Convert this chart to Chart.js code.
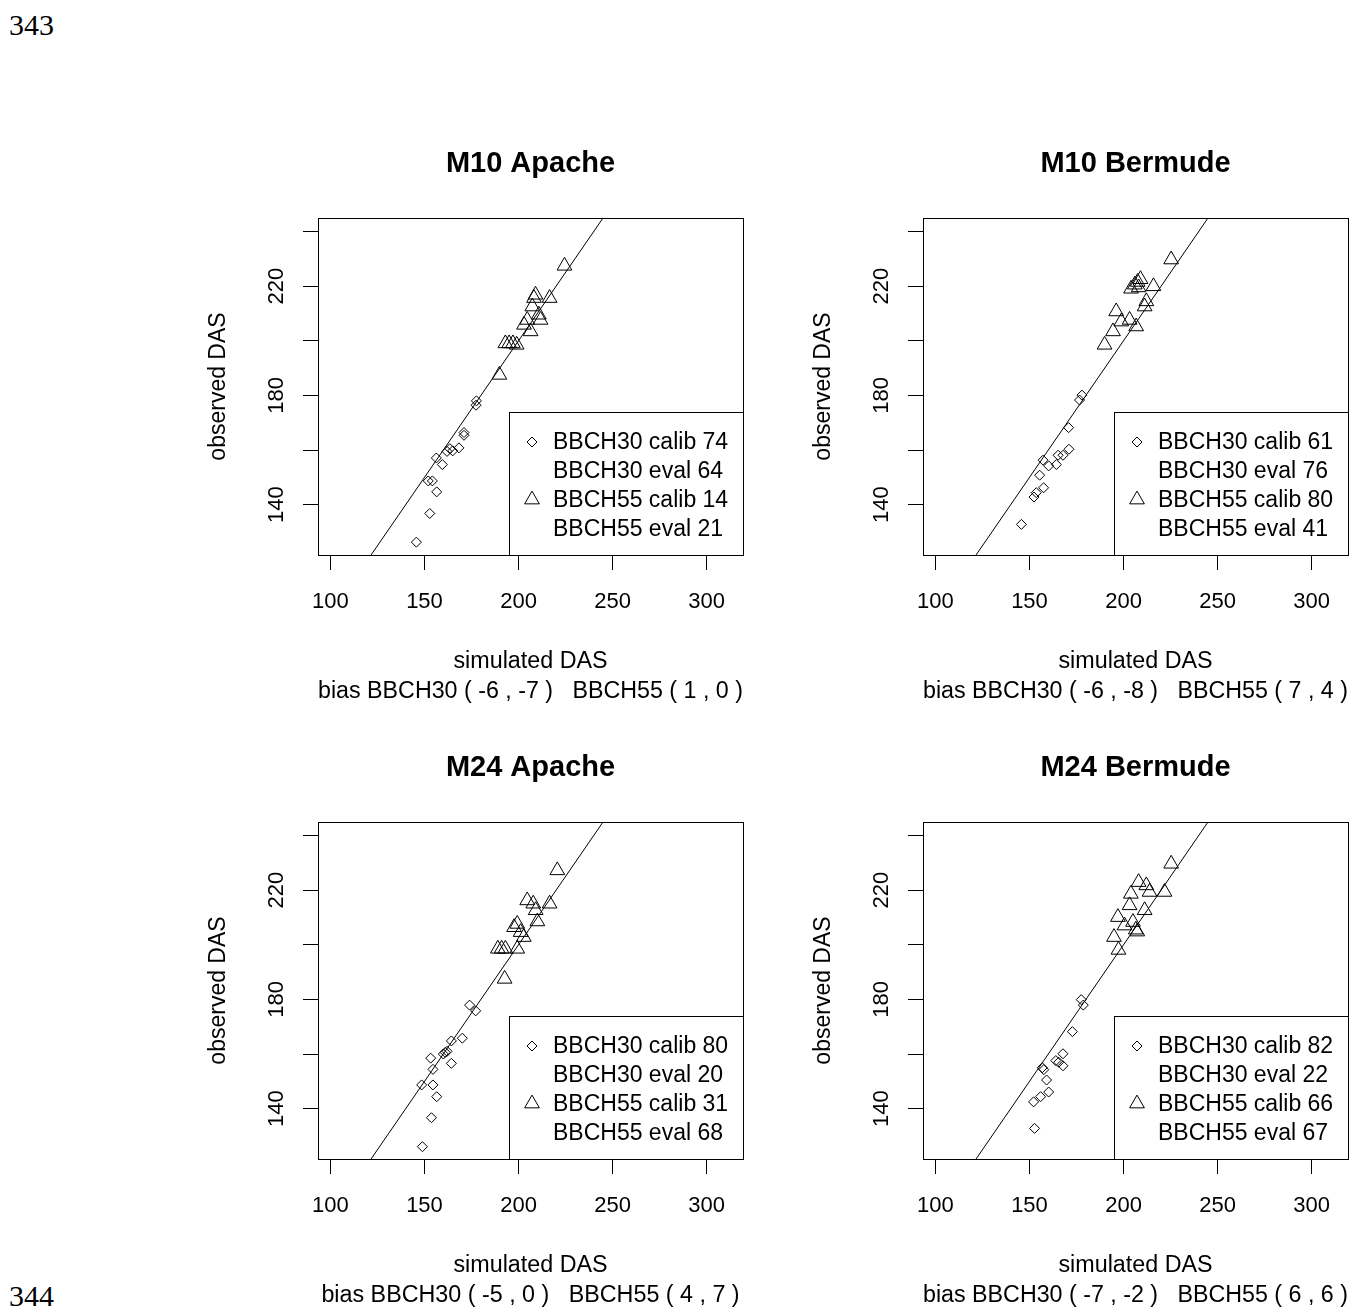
<!DOCTYPE html>
<html>
<head>
<meta charset="utf-8">
<script src="https://cdn.jsdelivr.net/npm/chart.js@4.4.1/dist/chart.umd.min.js"></script>
<style>
  html, body { margin: 0; background: #fff; overflow: hidden; }
  body { width: 1365px; height: 1308px; position: relative; }
  .pg { position: absolute; left: 9px; font: 30px "Liberation Serif", "Times New Roman", serif; line-height: 30px; color: #000; }
  canvas { position: absolute; }
</style>
</head>
<body>
<div class="pg" style="top:10px">343</div>
<div class="pg" style="top:1281px">344</div>
<canvas id="p1" width="760" height="707" style="left:0;top:0"></canvas>
<canvas id="p2" width="760" height="707" style="left:605px;top:0"></canvas>
<canvas id="p3" width="760" height="707" style="left:0;top:604px"></canvas>
<canvas id="p4" width="760" height="707" style="left:605px;top:604px"></canvas>
<script>
// axis set-up shared by all four panels
const xMin = 93.4, xMax = 319.3, yMin = 121.6, yMax = 244.9;
const xTicks = [100, 150, 200, 250, 300];
const yTicks = [140, 160, 180, 200, 220, 240];
const yTickLabels = [140, 180, 220];
const oneToOne = [110, 260];

// M10 Apache
const m10ApacheB30X = [145.7, 152.8, 156.5, 152, 154.2, 159.5, 156.3, 162, 163.5, 165, 168.3, 171, 171, 177.4, 177.6];
const m10ApacheB30Y = [126.3, 136.8, 144.7, 148.7, 148.7, 154.7, 157.1, 159.5, 160.5, 159.7, 160.8, 165.4, 166.4, 176.4, 178];
const m10ApacheB55X = [189.8, 193, 195, 197, 199, 206.4, 202.9, 204.6, 211.7, 210.8, 207.3, 208.2, 209, 216.5, 224.4];
const m10ApacheB55Y = [187.5, 199, 199, 199, 198.5, 203.4, 205.8, 207.6, 207.6, 209.5, 212.5, 215.6, 216.8, 215.6, 227.4];
const m10ApacheScores = [74, 64, 14, 21];
const m10ApacheBias = [-6, -7, 1, 0];

// M10 Bermude
const m10BermudeB30X = [145.7, 152.4, 153.6, 157.5, 155.4, 157.2, 160.2, 164.3, 165.2, 167.8, 171, 170.8, 176.6, 177.9];
const m10BermudeB30Y = [132.8, 142.8, 144.4, 146.2, 150.8, 156.3, 154.2, 154.7, 158.1, 158.1, 160.3, 168.2, 178.3, 180.1];
const m10BermudeB55X = [189.9, 194.4, 198.8, 203.2, 206.7, 196.1, 211.2, 212.1, 204, 206, 207.5, 209, 208, 215.9, 225.3];
const m10BermudeB55Y = [198.5, 203.4, 207, 207.6, 205.2, 210.7, 212.5, 214.4, 219, 220.5, 221.5, 222.5, 219.5, 219.9, 229.7];
const m10BermudeScores = [61, 76, 80, 41];
const m10BermudeBias = [-6, -8, 7, 4];

// M24 Apache
const m24ApacheB30X = [148.9, 153.7, 156.5, 148.5, 154.5, 154.5, 153.3, 164.3, 160, 161, 162, 164.3, 170.1, 174, 177.2];
const m24ApacheB30Y = [126.1, 136.7, 144.4, 148.7, 148.7, 154.4, 158.5, 156.6, 160, 160.6, 161, 164.8, 165.8, 177.9, 175.8];
const m24ApacheB55X = [192.6, 189, 191, 193, 199.3, 199.3, 197.6, 201.1, 202.8, 204.6, 207.8, 209.1, 210, 216.5, 220.6];
const m24ApacheB55Y = [187.5, 198.5, 198.5, 198.5, 198.5, 207.6, 206.4, 204.6, 202.8, 216.2, 215, 212.6, 208.5, 215, 227.2];
const m24ApacheScores = [80, 20, 31, 68];
const m24ApacheBias = [-5, 0, 4, 7];

// M24 Bermude
const m24BermudeB30X = [152.7, 152.2, 155.9, 160.2, 159.1, 157.6, 156.8, 164, 165.5, 167.8, 167.8, 172.8, 177.5, 178.6];
const m24BermudeB30Y = [132.8, 142.5, 144.4, 146.1, 150.5, 154.3, 155, 157.6, 157, 155.7, 160.1, 168.2, 179.9, 177.9];
const m24BermudeB55X = [197.3, 194.9, 207.3, 200.5, 205, 197, 211.2, 203.2, 203.9, 208, 212.1, 213.8, 221.8, 225.3, 206.5];
const m24BermudeB55Y = [198.1, 202.8, 204.8, 207, 208.3, 210.1, 212.6, 214.4, 218.6, 222.9, 221.7, 219.3, 219.3, 229.6, 205.5];
const m24BermudeScores = [82, 22, 66, 67];
const m24BermudeBias = [-7, -2, 6, 6];

const FONT = '"Liberation Sans", Arial, sans-serif';
Chart.defaults.font.family = FONT;
Chart.defaults.color = '#000';

const zip = (xs, ys) => xs.map((x, i) => ({ x, y: ys[i] }));
const DIAMOND = { pointStyle: 'rectRot', radius: 5 };
const TRIANGLE = { pointStyle: 'triangle', radius: 8.5 };

// R style: full box round the plot region + legend in the bottom right corner
const rFrame = {
  id: 'rFrame',
  afterDatasetsDraw(chart, args, opts) {
    const { ctx, chartArea: a } = chart;
    ctx.save();
    ctx.strokeStyle = '#000'; ctx.lineWidth = 1;
    ctx.strokeRect(a.left + 0.5, a.top + 0.5, a.right - a.left, a.bottom - a.top);
    const w = 234, h = 143, x0 = a.right - w, y0 = a.bottom - h;
    ctx.fillStyle = '#fff'; ctx.fillRect(x0, y0, w, h);
    ctx.strokeRect(x0 + 0.5, y0 + 0.5, w, h);
    ctx.font = '23px ' + FONT; ctx.textBaseline = 'middle'; ctx.textAlign = 'left'; ctx.fillStyle = '#000';
    opts.rows.forEach((r, i) => {
      const y = y0 + 31 + i * 28.8;
      if (r.sym) {
        ctx.fillStyle = 'rgba(0,0,0,0)';
        Chart.helpers.drawPoint(ctx, { ...r.sym, borderWidth: 1, rotation: 0 }, x0 + 23, y - (r.sym === DIAMOND ? 4 : 1));
        ctx.fillStyle = '#000';
      }
      ctx.fillText(r.text, x0 + 44, y);
    });
    ctx.restore();
  },
};

function panel(id, title, b30, b55, scores, bias) {
  const canvas = document.getElementById(id);
  new Chart(canvas, {
    type: 'scatter',
    data: {
      datasets: [
        { data: zip(oneToOne, oneToOne), showLine: true, borderColor: '#000', borderWidth: 1, pointRadius: 0 },
        { data: b30, ...DIAMOND, borderColor: '#000', backgroundColor: 'rgba(0,0,0,0)', borderWidth: 1 },
        { data: b55, ...TRIANGLE, borderColor: '#000', backgroundColor: 'rgba(0,0,0,0)', borderWidth: 1 },
      ],
    },
    options: {
      responsive: false, animation: false, events: [],
      layout: { padding: { left: 0, top: 0, right: 17, bottom: 0 } },
      plugins: {
        legend: { display: false }, tooltip: { enabled: false },
        title: { display: true, text: title, fullSize: false, color: '#000', font: { size: 29, weight: 'bold', lineHeight: 1.2 }, padding: { top: 146.6, bottom: 36.6 } },
        rFrame: { rows: [
          { sym: DIAMOND, text: `BBCH30 calib ${scores[0]}` },
          { text: `BBCH30 eval ${scores[1]}` },
          { sym: TRIANGLE, text: `BBCH55 calib ${scores[2]}` },
          { text: `BBCH55 eval ${scores[3]}` },
        ] },
      },
      scales: {
        x: {
          type: 'linear', min: xMin, max: xMax,
          afterBuildTicks: (s) => { s.ticks = xTicks.map((value) => ({ value })); },
          afterFit: (s) => { s.height = canvas.height - 555; },
          ticks: { autoSkip: false, maxRotation: 0, font: { size: 22 }, padding: 19, color: '#000' },
          grid: { drawOnChartArea: false, tickLength: 15, color: '#000', lineWidth: 1 },
          border: { display: true, color: '#000' },
          title: { display: true, text: ['simulated DAS', `bias BBCH30 ( ${bias[0]} , ${bias[1]} )   BBCH55 ( ${bias[2]} , ${bias[3]} )`], color: '#000', font: { size: 23.3, lineHeight: '30px' }, padding: { top: 0, bottom: 0 } },
        },
        y: {
          type: 'linear', min: yMin, max: yMax,
          afterBuildTicks: (s) => { s.ticks = yTicks.map((value) => ({ value })); },
          afterFit: (s) => { s.width = 318; },
          ticks: { autoSkip: false, minRotation: 90, maxRotation: 90, crossAlign: 'center', font: { size: 22 }, padding: 8, color: '#000', callback: (v) => (yTickLabels.includes(v) ? String(v) : '') },
          grid: { drawOnChartArea: false, tickLength: 15, color: '#000', lineWidth: 1 },
          border: { display: true, color: '#000' },
          title: { display: true, text: 'observed DAS', color: '#000', font: { size: 23, lineHeight: 1.2 }, padding: { top: 205, bottom: 0 } },
        },
      },
    },
    plugins: [rFrame],
  });
}

panel('p1', 'M10 Apache', zip(m10ApacheB30X, m10ApacheB30Y), zip(m10ApacheB55X, m10ApacheB55Y), m10ApacheScores, m10ApacheBias);
panel('p2', 'M10 Bermude', zip(m10BermudeB30X, m10BermudeB30Y), zip(m10BermudeB55X, m10BermudeB55Y), m10BermudeScores, m10BermudeBias);
panel('p3', 'M24 Apache', zip(m24ApacheB30X, m24ApacheB30Y), zip(m24ApacheB55X, m24ApacheB55Y), m24ApacheScores, m24ApacheBias);
panel('p4', 'M24 Bermude', zip(m24BermudeB30X, m24BermudeB30Y), zip(m24BermudeB55X, m24BermudeB55Y), m24BermudeScores, m24BermudeBias);
</script>
</body>
</html>
